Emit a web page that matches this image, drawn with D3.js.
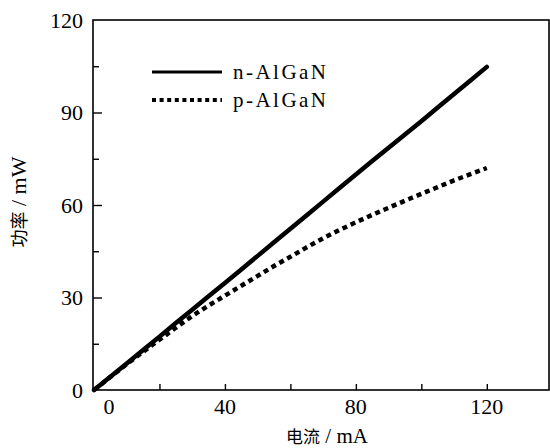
<!DOCTYPE html>
<html>
<head>
<meta charset="utf-8">
<script src="https://cdn.jsdelivr.net/npm/d3@7"></script>
<style>
  html, body { margin: 0; padding: 0; background: #fff; }
  svg { display: block; }
</style>
</head>
<body>
<svg id="chart" width="550" height="448"></svg>
<script>
// ---- data ----
const current = [0,5,10,15,20,25,30,35,40,45,50,55,60,65,70,75,80,85,90,95,100,105,110,115,120];
const nAlGaN = [0,4.3,8.6,13.0,17.3,21.7,26.0,30.4,34.7,39.1,43.5,47.9,52.3,56.7,61.1,65.5,69.9,74.3,78.6,82.9,87.2,91.6,96.0,100.4,104.8];
const pAlGaN = [0,4.2,8.4,12.4,16.3,20.2,24.0,27.4,30.6,33.8,37.0,40.2,43.2,46.3,49.2,51.9,54.4,56.8,59.1,61.4,63.6,65.8,68.0,70.0,72.0];
const seriesNames = ["n-AlGaN", "p-AlGaN"];
const xTickValues = [20,40,60,80,100,120];
const xTickLabels = [0,40,80,120];
const yMajorTicks = [0,30,60,90,120];
const yMinorTicks = [15,45,75,105];
const xTitleCJK = "电流", xTitleUnit = " / mA";
const yTitleCJK = "功率", yTitleUnit = " / mW";

const SERIF = '"Liberation Serif", "Times New Roman", Times, "DejaVu Serif", serif';
const CJK = '"Noto Sans CJK SC", sans-serif';

const svg = d3.select("#chart");

const x = d3.scaleLinear().domain([-0.3, 139]).range([93, 549]);
const y = d3.scaleLinear().domain([0, 120]).range([390, 20]);

// frame
svg.append("rect")
  .attr("x", x.range()[0]).attr("y", y.range()[1])
  .attr("width", x.range()[1] - x.range()[0])
  .attr("height", y.range()[0] - y.range()[1])
  .attr("fill", "none").attr("stroke", "#000").attr("stroke-width", 1.6);

// x ticks (inward)
const xAxis = d3.axisBottom(x).tickValues(xTickValues).tickSize(-6).tickFormat("");
svg.append("g").attr("transform", `translate(0,${y(0)})`).call(xAxis)
  .call(g => g.select(".domain").remove())
  .call(g => g.selectAll("line").attr("stroke", "#000").attr("stroke-width", 1.4));

// y ticks (inward)
const yAxisMajor = d3.axisLeft(y).tickValues(yMajorTicks.slice(1, -1)).tickSize(-9).tickFormat("");
svg.append("g").attr("transform", `translate(${x.range()[0]},0)`).call(yAxisMajor)
  .call(g => g.select(".domain").remove())
  .call(g => g.selectAll("line").attr("stroke", "#000").attr("stroke-width", 1.4));
const yAxisMinor = d3.axisLeft(y).tickValues(yMinorTicks).tickSize(-6).tickFormat("");
svg.append("g").attr("transform", `translate(${x.range()[0]},0)`).call(yAxisMinor)
  .call(g => g.select(".domain").remove())
  .call(g => g.selectAll("line").attr("stroke", "#000").attr("stroke-width", 1.4));

// y tick labels
svg.append("g").selectAll("text").data(yMajorTicks).join("text")
  .attr("x", 83).attr("y", d => y(d)).attr("dy", "0.35em")
  .attr("text-anchor", "end")
  .style("font-family", SERIF).style("font-size", "22px")
  .text(d => d);

// x tick labels
svg.append("g").selectAll("text").data(xTickLabels).join("text")
  .attr("x", d => x(d) + (d === 0 ? 15 : 0)).attr("y", 414)
  .attr("text-anchor", "middle")
  .style("font-family", SERIF).style("font-size", "22px")
  .text(d => d);

// axis titles
const xt = svg.append("text").attr("x", 327).attr("y", 443).attr("text-anchor", "middle");
xt.append("tspan").style("font-family", CJK).style("font-size", "17px").text(xTitleCJK);
xt.append("tspan").style("font-family", SERIF).style("font-size", "21px").style("white-space", "pre").text(xTitleUnit);

const yt = svg.append("text").attr("transform", "translate(26,202) rotate(-90)").attr("text-anchor", "middle");
yt.append("tspan").style("font-family", CJK).style("font-size", "18px").text(yTitleCJK);
yt.append("tspan").style("font-family", SERIF).style("font-size", "22px").style("white-space", "pre").text(yTitleUnit);

// lines
const line = d3.line().x((d, i) => x(current[i])).y(d => y(d));
svg.append("path").datum(nAlGaN)
  .attr("d", line).attr("fill", "none").attr("stroke", "#000")
  .attr("stroke-width", 4.5).attr("stroke-linecap", "round").attr("stroke-linejoin", "round");
svg.append("path").datum(pAlGaN)
  .attr("d", line).attr("fill", "none").attr("stroke", "#000")
  .attr("stroke-width", 4.5).attr("stroke-dasharray", "5,4");

// legend
const legend = svg.append("g");
const legY = [72, 100];
legend.append("line").attr("x1", 152).attr("x2", 222).attr("y1", legY[0]).attr("y2", legY[0])
  .attr("stroke", "#000").attr("stroke-width", 3.2);
legend.append("line").attr("x1", 152).attr("x2", 222).attr("y1", legY[1]).attr("y2", legY[1])
  .attr("stroke", "#000").attr("stroke-width", 4).attr("stroke-dasharray", "4,3.6");
legend.selectAll("text").data(seriesNames).join("text")
  .attr("x", 233).attr("y", (d, i) => legY[i]).attr("dy", "0.35em")
  .style("font-family", SERIF).style("font-size", "21px")
  .attr("textLength", 93).attr("lengthAdjust", "spacing")
  .text(d => d);
</script>
</body>
</html>
